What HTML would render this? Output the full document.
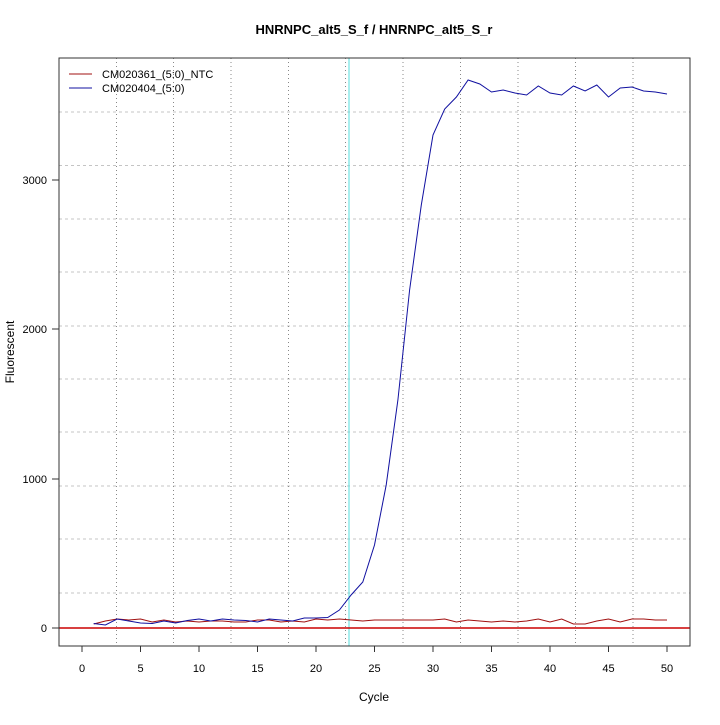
<!DOCTYPE html>
<html><head><style>body{margin:0;background:#fff}</style></head><body>
<svg width="720" height="720" xmlns="http://www.w3.org/2000/svg" font-family="Liberation Sans, sans-serif">
<rect width="720" height="720" fill="#fff"/>
<g stroke="#c4c4c4" stroke-dasharray="3,3" stroke-width="1">
<line x1="59" x2="690" y1="112" y2="112"/><line x1="59" x2="690" y1="165.5" y2="165.5"/><line x1="59" x2="690" y1="219" y2="219"/><line x1="59" x2="690" y1="272" y2="272"/><line x1="59" x2="690" y1="326" y2="326"/><line x1="59" x2="690" y1="379" y2="379"/><line x1="59" x2="690" y1="432" y2="432"/><line x1="59" x2="690" y1="486" y2="486"/><line x1="59" x2="690" y1="539" y2="539"/><line x1="59" x2="690" y1="593" y2="593"/>
</g>
<g stroke="#888" stroke-dasharray="1,3" stroke-width="1">
<line x1="116.5" x2="116.5" y1="58" y2="646"/><line x1="173.5" x2="173.5" y1="58" y2="646"/><line x1="231" x2="231" y1="58" y2="646"/><line x1="288.5" x2="288.5" y1="58" y2="646"/><line x1="345.5" x2="345.5" y1="58" y2="646"/><line x1="403" x2="403" y1="58" y2="646"/><line x1="460.5" x2="460.5" y1="58" y2="646"/><line x1="518" x2="518" y1="58" y2="646"/><line x1="575.5" x2="575.5" y1="58" y2="646"/><line x1="633" x2="633" y1="58" y2="646"/>
</g>
<line x1="349" x2="349" y1="58" y2="646" stroke="#5dd" stroke-width="1"/>
<line x1="59" x2="690" y1="628" y2="628" stroke="#c00" stroke-width="1.5"/>
<polyline fill="none" stroke="#a01010" stroke-width="1" points="93.7,624 105.4,621 117.1,619 128.8,620 140.5,619 152.2,622 163.9,620 175.6,622 187.3,621 199,622 210.7,621 222.4,621 234.1,622 245.8,622 257.5,620 269.2,620 280.9,622 292.6,621 304.3,622 316,619 327.7,620 339.4,619 351.1,620 362.8,621 374.5,620 386.2,620 397.9,620 409.6,620 421.3,620 433,620 444.7,619 456.4,622 468.1,620 479.8,621 491.5,622 503.2,621 514.9,622 526.6,621 538.3,619 550,622 561.7,619 573.4,624 585.1,624 596.8,621 608.5,619 620.2,622 631.9,619 643.6,619 655.3,620 667,620"/>
<polyline fill="none" stroke="#1010a0" stroke-width="1" points="93.7,623.5 105.4,625 117.1,619 128.8,621 140.5,623 152.2,623.5 163.9,621 175.6,623 187.3,620.5 199,619 210.7,621 222.4,619 234.1,620 245.8,620.5 257.5,622 269.2,619 280.9,620 292.6,621 304.3,618 316,618 327.7,617.5 339.4,610 351.1,595 362.8,582 374.5,545 386.2,485 397.9,400 409.6,290 421.3,205 433,135 444.7,109 456.4,97 468.1,80 479.8,84 491.5,92 503.2,90 514.9,93 526.6,95 538.3,86 550,93 561.7,95 573.4,86 585.1,91 596.8,85 608.5,97 620.2,88 631.9,87 643.6,91 655.3,92 667,94"/>
<rect x="59" y="58" width="631" height="588" fill="none" stroke="#333" stroke-width="1"/>
<g stroke="#333"><line x1="82" x2="82" y1="646" y2="652"/><line x1="140.5" x2="140.5" y1="646" y2="652"/><line x1="199" x2="199" y1="646" y2="652"/><line x1="257.5" x2="257.5" y1="646" y2="652"/><line x1="316" x2="316" y1="646" y2="652"/><line x1="374.5" x2="374.5" y1="646" y2="652"/><line x1="433" x2="433" y1="646" y2="652"/><line x1="491.5" x2="491.5" y1="646" y2="652"/><line x1="550" x2="550" y1="646" y2="652"/><line x1="608.5" x2="608.5" y1="646" y2="652"/><line x1="667" x2="667" y1="646" y2="652"/>
<line x1="52" x2="59" y1="628" y2="628"/><line x1="52" x2="59" y1="479" y2="479"/><line x1="52" x2="59" y1="329" y2="329"/><line x1="52" x2="59" y1="180" y2="180"/></g>
<g font-size="11" fill="#000" text-anchor="middle">
<text x="82" y="672">0</text><text x="140.5" y="672">5</text><text x="199" y="672">10</text><text x="257.5" y="672">15</text><text x="316" y="672">20</text><text x="374.5" y="672">25</text><text x="433" y="672">30</text><text x="491.5" y="672">35</text><text x="550" y="672">40</text><text x="608.5" y="672">45</text><text x="667" y="672">50</text>
</g>
<g font-size="11" text-anchor="end"><text x="47" y="632">0</text><text x="47" y="483">1000</text><text x="47" y="333">2000</text><text x="47" y="184">3000</text></g>
<text x="374" y="701" font-size="12" text-anchor="middle">Cycle</text>
<text transform="translate(14,352) rotate(-90)" font-size="12" text-anchor="middle">Fluorescent</text>
<text x="374" y="34" font-size="13" font-weight="bold" text-anchor="middle">HNRNPC_alt5_S_f / HNRNPC_alt5_S_r</text>
<line x1="69" x2="92" y1="74" y2="74" stroke="#a01010"/><line x1="69" x2="92" y1="88" y2="88" stroke="#1010a0"/>
<text x="102" y="78" font-size="11">CM020361_(5:0)_NTC</text>
<text x="102" y="92" font-size="11">CM020404_(5:0)</text>
</svg>
</body></html>
